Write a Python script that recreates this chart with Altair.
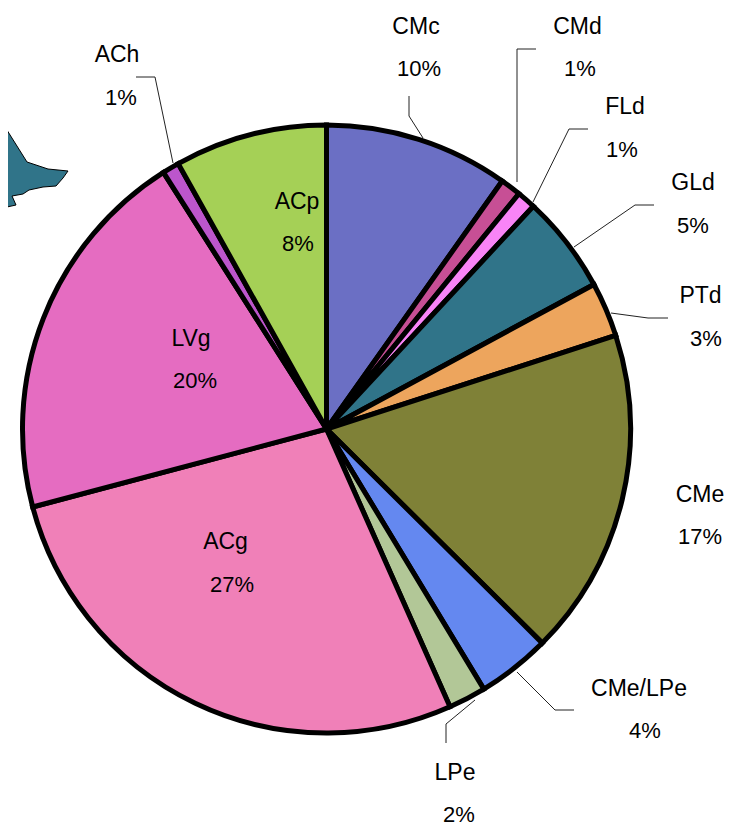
import altair as alt
import pandas as pd

# ---- chart values ----
names = ["CMc", "CMd", "FLd", "GLd", "PTd", "CMe", "CMe/LPe", "LPe", "ACg", "LVg", "ACh", "ACp"]
shares = [9.8, 1.1, 1.0, 5.2, 2.9, 17.4, 3.9, 2.0, 27.5, 20.1, 0.9, 8.1]
percent_text = ["10%", "1%", "1%", "5%", "3%", "17%", "4%", "2%", "27%", "20%", "1%", "8%"]
colors = ["#6B6FC4", "#C74F95", "#F984F7", "#307489", "#EDA55D", "#7F8137",
          "#6488F0", "#B2C797", "#F080B8", "#E56CC1", "#BC56CC", "#A5D056"]

# ---- annotation placement, in page coordinates ----
name_x = [416, 577.5, 625, 693, 700.5, 700, 639, 455, 225.5, 191, 117, 297]
name_y = [34, 34, 114, 190, 303, 502, 696, 780, 549, 346, 62, 209]
pct_x = [419, 580, 622, 693, 706, 700, 645, 459, 232, 195, 121, 298]
pct_y = [76, 76, 157, 233, 346, 544, 738, 822, 592, 388, 105, 251]

leader_ids = ["CMc"] * 3 + ["CMd"] * 3 + ["FLd"] * 3 + ["GLd"] * 3 + ["PTd"] * 3 + ["CMe/LPe"] * 3 + ["LPe"] * 3 + ["ACh"] * 3
leader_x = [409, 409, 423, 536, 517, 517, 588, 569, 533, 654, 635, 574,
            668, 648, 611, 574, 555, 517, 446, 446, 475, 136, 155, 173]
leader_y = [96, 116, 138, 49, 49, 182, 129, 129, 202, 205, 205, 247,
            318, 318, 313, 710, 710, 672, 743, 724, 700, 77, 77, 163]

blob_x = [-4, 0, 27, 48, 68, 63, 56, 43, 29, 23, 12, 16, 7, 3, -4, -4]
blob_y = [119, 119, 162, 169, 171, 178, 186, 187, 190, 194, 196, 205, 207, 215, 216, 119]

# ---- tables ----
slices = pd.DataFrame({"name": names, "share": shares, "idx": range(len(names))})
name_labels = pd.DataFrame({"text": names, "x": name_x, "y": name_y})
pct_labels = pd.DataFrame({"text": percent_text, "x": pct_x, "y": pct_y})
leaders = pd.DataFrame({"id": leader_ids, "x": leader_x, "y": leader_y,
                        "idx": range(len(leader_x))})
blob = pd.DataFrame({"x": blob_x, "y": blob_y, "idx": range(len(blob_x))})

W, H = 733, 818
xs = alt.Scale(domain=[8, 8 + W], range=[0, W], nice=False, zero=False)
ys = alt.Scale(domain=[8 + H, 8], range=[H, 0], nice=False, zero=False)
X = alt.X("x:Q", scale=xs, axis=None)
Y = alt.Y("y:Q", scale=ys, axis=None)

blob_layer = alt.Chart(blob).mark_line(
    fill="#307489", stroke="#000000", strokeWidth=1, clip=True
).encode(x=X, y=Y, order="idx:Q")

leader_layer = alt.Chart(leaders).mark_line(
    stroke="#222222", strokeWidth=1
).encode(x=X, y=Y, detail="id:N", order="idx:Q")

pie = alt.Chart(slices).mark_arc(
    outerRadius=304, stroke="#000000", strokeWidth=5
).encode(
    theta=alt.Theta("share:Q", stack=True),
    order=alt.Order("idx:Q"),
    color=alt.Color("name:N", scale=alt.Scale(domain=names, range=colors), legend=None),
    x=alt.value(318.5),
    y=alt.value(421),
)

name_layer = alt.Chart(name_labels).mark_text(
    font="Liberation Sans", fontSize=23, align="center", baseline="alphabetic", color="#000000"
).encode(x=X, y=Y, text="text:N")

pct_layer = alt.Chart(pct_labels).mark_text(
    font="Liberation Sans", fontSize=22, align="center", baseline="alphabetic", color="#000000"
).encode(x=X, y=Y, text="text:N")

chart = alt.layer(blob_layer, leader_layer, pie, name_layer, pct_layer).resolve_scale(
    color="independent"
).properties(
    width=W, height=H, padding=0, autosize=alt.AutoSizeParams(type="none"),
    background="#ffffff",
).configure_view(stroke=None)

chart.save("out.html", embed_options={"renderer": "svg", "actions": False})
